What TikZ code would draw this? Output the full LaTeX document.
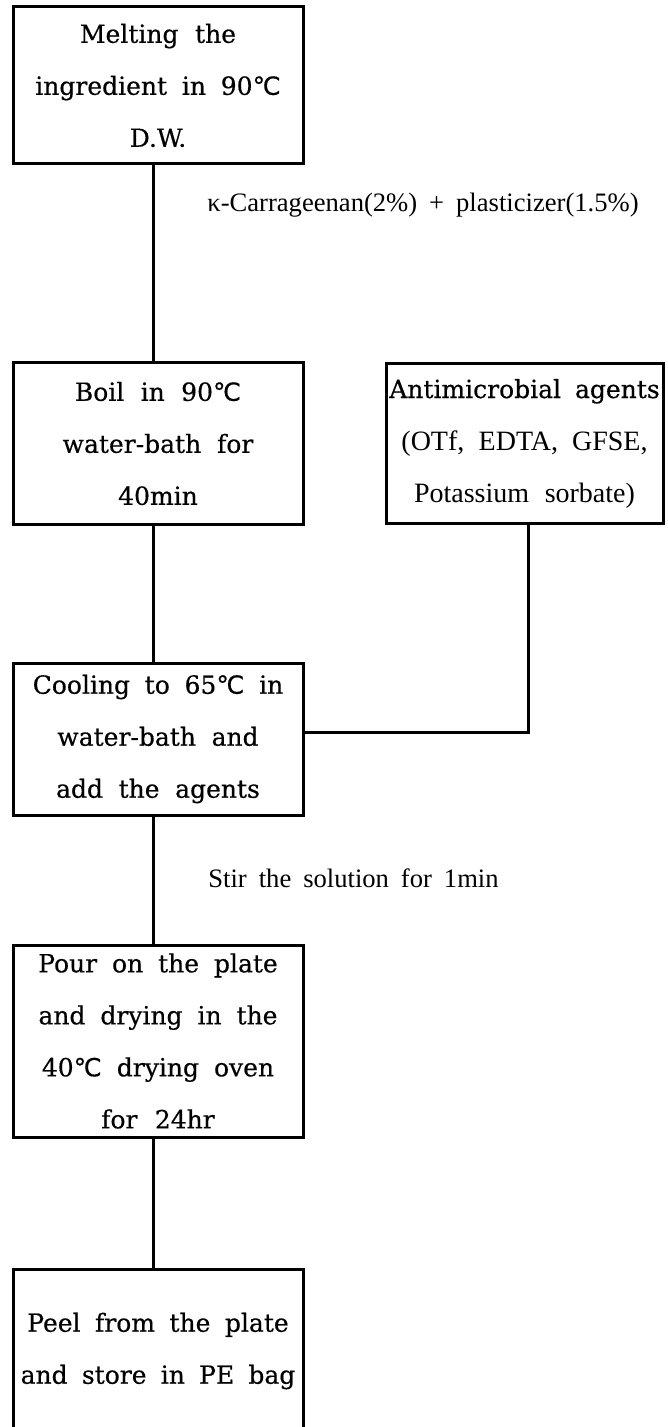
\documentclass[tikz,border=0pt]{standalone}
\usepackage{fontspec}
\newfontfamily\boxfont{DejaVu Serif}[FakeBold=0.5]
\newfontfamily\thinfont{Liberation Serif}[WordSpace=1.8]
\newfontfamily\symfont{DejaVu Sans}[FakeBold=0.5]
\newcommand{\degC}{{\symfont ℃}}
\newcommand{\thinline}{\thinfont\fontsize{14}{26}\selectfont\spaceskip=0pt\relax}
\usetikzlibrary{positioning}

\tikzset{
  stepbox/.style={draw, rectangle, line width=1.5pt, align=center,
    minimum width=145pt, text width=143pt, inner sep=0pt,
    font=\boxfont\fontsize{12.5}{26}\selectfont,
    execute at begin node={\spaceskip=7pt plus 1pt\relax}},
  note/.style={anchor=west, inner sep=0pt, font=\thinfont\fontsize{13.3}{15}\selectfont},
  link/.style={line width=1.5pt},
}

\begin{document}
\begin{tikzpicture}[x=1pt,y=1pt,on grid]
    \useasboundingbox (0,0) rectangle (334,-713.5);

    \node[stepbox, minimum height=78.5pt] (melt) at (79,-42.75)
    {Melting the\\ingredient in 90\degC\\D.W.};
    \node[stepbox, minimum height=80.5pt] (boil) [below=179pt of melt]
    {Boil in 90\degC\\water-bath for\\40min};
    \node[stepbox, minimum width=138.5pt, text width=134pt, minimum height=80pt] (agents) [right=183.25pt of boil]
    {\makebox[\linewidth]{Antimicrobial agents}\\{\thinline (OTf, EDTA, GFSE,}\\{\thinline Potassium sorbate)}};
    \node[stepbox, minimum height=76pt] (cool) [below=147.75pt of boil]
    {Cooling to 65\degC\ in\\water-bath and\\add the agents};
    \node[stepbox, minimum height=96pt] (pour) [below=151pt of cool]
    {Pour on the plate\\and drying in the\\40\degC\ drying oven\\for 24hr};
    \node[stepbox, minimum height=81.5pt] (peel) [below=155pt of pour]
    {Peel from the plate\\and store in PE bag};

    \node[note] (carra) at (103.5,-102.5) {κ-Carrageenan(2\%) + plasticizer(1.5\%)};
    \node[note] (stir) at (104,-439) {Stir the solution for 1min};

    \draw[link] ([xshift=-2.5pt]melt.south) -- ([xshift=-2.5pt]boil.north);
    \draw[link] ([xshift=-2.5pt]boil.south) -- ([xshift=-2.5pt]cool.north);
    \draw[link] ([xshift=1.75pt]agents.south) |- ([yshift=3.5pt]cool.east);
    \draw[link] ([xshift=-2.5pt]cool.south) -- ([xshift=-2.5pt]pour.north);
    \draw[link] ([xshift=-2.5pt]pour.south) -- ([xshift=-2.5pt]peel.north);

  \end{tikzpicture}
\end{document}
